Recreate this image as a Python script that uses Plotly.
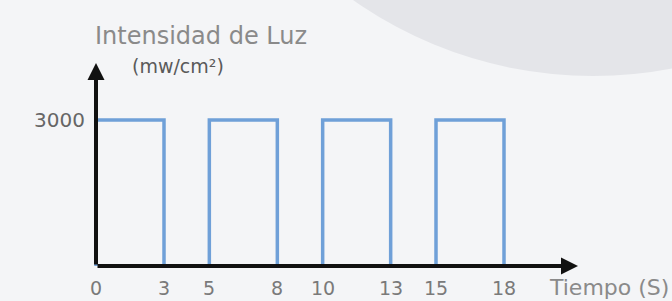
import plotly.graph_objects as go

# ---- data ----
pulse_start = [0, 5, 10, 15]          # s
pulse_end = [3, 8, 13, 18]            # s
intensity = 3000                      # mw/cm²
x_tick_values = [0, 3, 5, 8, 10, 13, 15, 18]
x_tick_labels = ["0", "3", "5", "8", "10", "13", "15", "18"]
y_tick_values = [3000]
y_tick_labels = ["3000"]

# ---- build the square wave from the pulses ----
xs, ys = [], []
for s, e in zip(pulse_start, pulse_end):
    xs += [s, s, e, e]
    ys += [0, intensity, intensity, 0]

W, H = 672, 301
BG = "#f4f5f7"
FONT = "DejaVu Sans"

fig = go.Figure()
fig.add_trace(go.Scatter(x=xs, y=ys, mode="lines",
                         line=dict(color="#6fa0d8", width=3.5),
                         hoverinfo="skip", showlegend=False))

# axis scaling (x: 0 -> px 96, 18 -> px 504 ; y: 0 -> px 266, 3000 -> px 120)
xpx = 408 / 18
ypx = 146 / 3000
x_range = [-96 / xpx, (W - 96) / xpx]
y_range = [-(H - 266) / ypx, 266 / ypx]
x_tip = (578 - 96) / xpx
y_tip = (266 - 63) / ypx

annotations = []
# axis arrows
annotations.append(dict(x=x_tip, y=0, ax=0, ay=0, xref="x", yref="y", axref="x", ayref="y",
                        text="", showarrow=True, arrowhead=2, arrowsize=0.85,
                        arrowwidth=4, arrowcolor="#111111", standoff=0, startstandoff=0))
annotations.append(dict(x=0, y=y_tip, ax=0, ay=0, xref="x", yref="y", axref="x", ayref="y",
                        text="", showarrow=True, arrowhead=2, arrowsize=0.85,
                        arrowwidth=4, arrowcolor="#111111", standoff=0, startstandoff=0))
# x tick labels
for v, t in zip(x_tick_values, x_tick_labels):
    annotations.append(dict(x=v, y=0, xref="x", yref="y", text=t, showarrow=False,
                            yshift=-22, xanchor="center", yanchor="middle",
                            font=dict(family=FONT, size=19, color="#7a7a7a")))
# y tick labels
for v, t in zip(y_tick_values, y_tick_labels):
    annotations.append(dict(x=0, y=v, xref="x", yref="y", text=t, showarrow=False,
                            xshift=-9, xanchor="right", yanchor="middle",
                            font=dict(family=FONT, size=20, color="#666666")))
# axis titles
annotations.append(dict(x=201 / W, y=1 - 36 / H, xref="paper", yref="paper",
                        text="Intensidad de Luz", showarrow=False,
                        xanchor="center", yanchor="middle",
                        font=dict(family=FONT, size=24, color="#8a8a8a")))
annotations.append(dict(x=178 / W, y=1 - 66 / H, xref="paper", yref="paper",
                        text="(mw/cm²)", showarrow=False,
                        xanchor="center", yanchor="middle",
                        font=dict(family=FONT, size=19, color="#5a5a5a")))
annotations.append(dict(x=547 / W, y=1 - 287 / H, xref="paper", yref="paper",
                        text="Tiempo (S)", showarrow=False,
                        xanchor="left", yanchor="middle",
                        font=dict(family=FONT, size=22, color="#8a8a8a")))

# decorative background blob (top-right)
R = 417
shapes = [dict(type="circle", xref="paper", yref="paper",
               xsizemode="pixel", ysizemode="pixel",
               xanchor=593 / W, yanchor=1 + 341 / H,
               x0=-R, x1=R, y0=-R, y1=R,
               fillcolor="#e4e5e9", line=dict(width=0), layer="below")]

fig.update_layout(
    width=W, height=H, autosize=False,
    margin=dict(l=0, r=0, t=0, b=0),
    paper_bgcolor=BG, plot_bgcolor="rgba(0,0,0,0)",
    xaxis=dict(range=x_range, visible=False, fixedrange=True),
    yaxis=dict(range=y_range, visible=False, fixedrange=True),
    annotations=annotations, shapes=shapes,
    showlegend=False,
)

fig.write_html("out.html", config={"displayModeBar": False},
               post_script="document.body.style.margin='0';"
                           "document.body.style.background='" + BG + "';")
